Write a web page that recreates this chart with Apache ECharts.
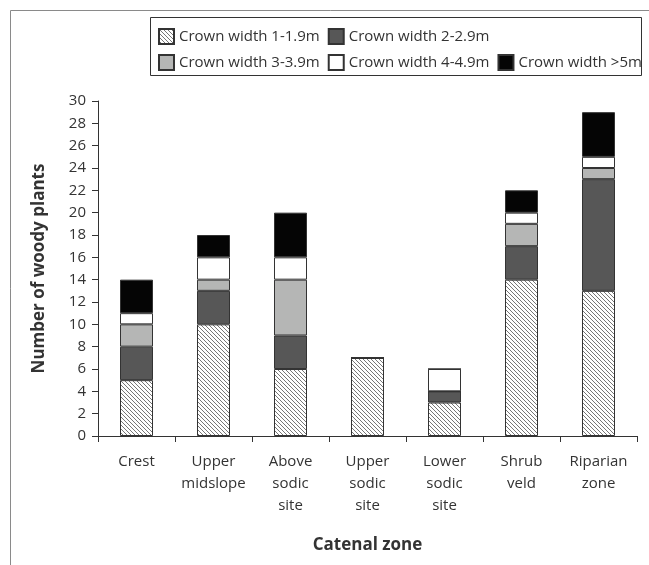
<!DOCTYPE html>
<html>
<head>
<meta charset="utf-8">
<script src="https://cdn.jsdelivr.net/npm/echarts@6/dist/echarts.min.js"></script>
<style>html,body{margin:0;padding:0;background:#fff}#c{width:649px;height:565px}</style>
</head>
<body>
<div id="c"></div>
<script>
const categories = ['Crest', 'Upper\nmidslope', 'Above\nsodic\nsite', 'Upper\nsodic\nsite', 'Lower\nsodic\nsite', 'Shrub\nveld', 'Riparian\nzone'];
const seriesNames = ['Crown width 1-1.9m', 'Crown width 2-2.9m', 'Crown width 3-3.9m', 'Crown width 4-4.9m', 'Crown width >5m'];
const width1 = [5, 10, 6, 7, 3, 14, 13];
const width2 = [3, 3, 3, 0, 1, 3, 10];
const width3 = [2, 1, 5, 0, 0, 2, 1];
const width4 = [1, 2, 2, 0, 2, 1, 1];
const width5 = [3, 2, 4, 0, 0, 2, 4];
const allValues = [width1, width2, width3, width4, width5];

// hatch pattern
const tile = document.createElement('canvas');
tile.width = 4; tile.height = 4;
const g = tile.getContext('2d');
g.fillStyle = '#fff'; g.fillRect(0, 0, 4, 4);
g.strokeStyle = '#777'; g.lineWidth = 1;
g.beginPath();
g.moveTo(-1, -1); g.lineTo(5, 5);
g.moveTo(-1, 3); g.lineTo(1, 5);
g.moveTo(3, -1); g.lineTo(5, 1);
g.stroke();

const fills = [{ image: tile, repeat: 'repeat' }, '#575757', '#b5b6b5', '#ffffff', '#050505'];
const font = 'Open Sans';
const txt = '#333';

const chart = echarts.init(document.getElementById('c'), null, { renderer: 'canvas' });
chart.setOption({
  animation: false,
  backgroundColor: '#fff',
  textStyle: { fontFamily: font },
  graphic: [
    { type: 'rect', silent: true, shape: { x: 10.5, y: 10.5, width: 1000, height: 1000 }, style: { fill: 'none', stroke: '#8a8a8a', lineWidth: 1 } },
    { type: 'rect', silent: true, shape: { x: 150.5, y: 17.5, width: 491, height: 58 }, style: { fill: 'none', stroke: '#333', lineWidth: 1 } }
  ],
  legend: [
    { data: seriesNames.slice(0, 2), left: 158, top: 28, padding: 0, icon: 'rect', itemWidth: 15, itemHeight: 15, itemGap: 8,
      textStyle: { fontFamily: font, fontSize: 15, color: txt, width: 143 } },
    { data: seriesNames.slice(2), left: 158, top: 54, padding: 0, icon: 'rect', itemWidth: 15, itemHeight: 15, itemGap: 8,
      textStyle: { fontFamily: font, fontSize: 15, color: txt, width: 143 } }
  ],
  grid: { left: 98, right: 12, top: 101, bottom: 129 },
  xAxis: {
    type: 'category', data: categories,
    axisLine: { lineStyle: { color: '#333', width: 1 } },
    axisTick: { show: true, length: 6, lineStyle: { color: '#333' } },
    axisLabel: { interval: 0, fontFamily: font, fontSize: 15, color: txt, lineHeight: 22, margin: 15 },
    name: 'Catenal zone', nameLocation: 'middle', nameGap: 101,
    nameTextStyle: { fontFamily: font, fontSize: 17, fontWeight: 'bold', color: txt }
  },
  yAxis: {
    type: 'value', min: 0, max: 30, interval: 2,
    splitLine: { show: false },
    axisLine: { show: true, lineStyle: { color: '#333', width: 1 } },
    axisTick: { show: true, length: 6, lineStyle: { color: '#333' } },
    axisLabel: { fontFamily: font, fontSize: 15, color: txt, margin: 12 },
    name: 'Number of woody plants', nameLocation: 'middle', nameGap: 50, nameRotate: 90,
    nameTextStyle: { fontFamily: font, fontSize: 17, fontWeight: 'bold', color: txt }
  },
  series: seriesNames.map((n, i) => ({
    name: n, type: 'bar', stack: 'total', barWidth: 33,
    data: allValues[i],
    itemStyle: { color: fills[i], borderColor: '#333', borderWidth: 1 },
    emphasis: { disabled: true }
  }))
});
</script>
</body>
</html>
